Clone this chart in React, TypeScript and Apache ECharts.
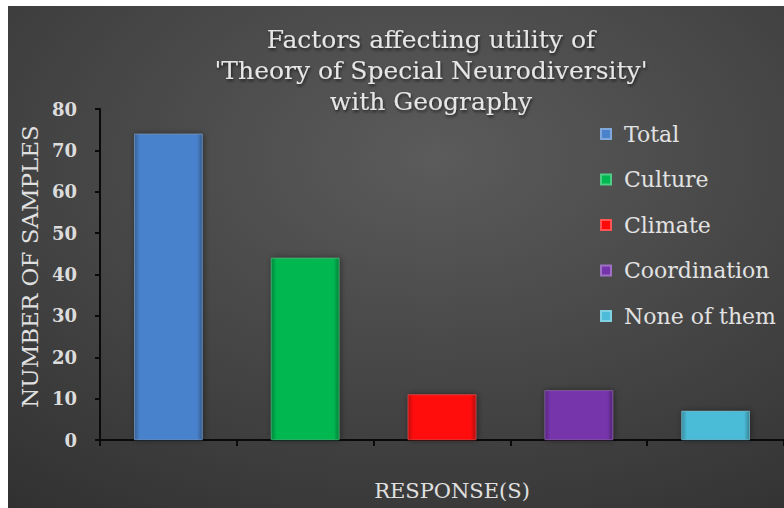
import React, { useEffect, useRef } from "react";
import * as echarts from "echarts";

const categories = ["Total", "Culture", "Climate", "Coordination", "None of them"];
const values = [74, 44, 11, 12, 7];
const barColors = ["#4a82cc", "#00b850", "#ff0a0a", "#7634aa", "#4cbcd8"];
const titleLines = [
  "Factors affecting utility of",
  "'Theory of Special Neurodiversity'",
  "with Geography",
];
const yAxisTitle = "NUMBER OF SAMPLES";
const xAxisTitle = "RESPONSE(S)";
const yMin = 0;
const yMax = 80;
const yStep = 10;

const FONT = "'DejaVu Serif', 'Liberation Serif', serif";

function shade(hex: string, f: number): string {
  const n = parseInt(hex.slice(1), 16);
  let r = (n >> 16) & 255, g = (n >> 8) & 255, b = n & 255;
  if (f < 0) {
    r = Math.round(r * (1 + f)); g = Math.round(g * (1 + f)); b = Math.round(b * (1 + f));
  } else {
    r = Math.round(r + (255 - r) * f); g = Math.round(g + (255 - g) * f); b = Math.round(b + (255 - b) * f);
  }
  return `rgb(${r},${g},${b})`;
}

export default function App() {
  const ref = useRef<HTMLDivElement>(null);
  useEffect(() => {
    if (!ref.current) return;
    const chart = echarts.init(ref.current, null, { renderer: "svg" });
    const series = categories.map((name, i) => ({
      name,
      type: "bar",
      barWidth: "50%",
      barGap: "-100%",
      data: categories.map((_, j) => (j === i ? values[i] : null)),
      itemStyle: {
        color: new echarts.graphic.LinearGradient(0, 0, 1, 0, [
          { offset: 0, color: shade(barColors[i], -0.25) },
          { offset: 0.08, color: barColors[i] },
          { offset: 0.92, color: barColors[i] },
          { offset: 1, color: shade(barColors[i], -0.3) },
        ]),
        borderColor: shade(barColors[i], 0.3),
        borderWidth: 0.6,
        shadowColor: "rgba(0,0,0,0.45)",
        shadowBlur: 6,
        shadowOffsetX: 1,
        shadowOffsetY: 0,
      },
    }));
    chart.setOption({
      animation: false,
      backgroundColor: {
        type: "radial",
        x: 0.55,
        y: 0.3,
        r: 0.95,
        colorStops: [
          { offset: 0, color: "#5b5b5b" },
          { offset: 1, color: "#2e2e2e" },
        ],
      },
      title: {
        text: titleLines.join("\n"),
        left: 423,
        top: 18,
        padding: 0,
        textAlign: "center",
        textStyle: {
          fontFamily: FONT,
          fontSize: 25,
          fontWeight: "normal",
          color: "#e6e6e6",
          lineHeight: 31,
          textShadowColor: "rgba(0,0,0,0.6)",
          textShadowBlur: 3,
          textShadowOffsetX: 1,
          textShadowOffsetY: 2,
        },
      },
      legend: {
        orient: "vertical",
        left: 592,
        top: 117,
        padding: 0,
        itemWidth: 10,
        itemHeight: 10,
        itemGap: 23.5,
        icon: "rect",
        data: categories,
        textStyle: {
          fontFamily: FONT,
          fontSize: 22,
          color: "#e2e2e2",
          lineHeight: 22,
          padding: [0, 0, 0, 8],
        },
      },
      grid: { left: 92, right: 0, top: 103, bottom: 68, containLabel: false },
      xAxis: {
        type: "category",
        data: categories,
        name: xAxisTitle,
        nameLocation: "middle",
        nameGap: 40,
        nameTextStyle: {
          fontFamily: FONT,
          fontSize: 21,
          color: "#e0e0e0",
          padding: [0, 0, 0, 20],
        },
        axisLine: { lineStyle: { color: "#0a0a0a", width: 2 } },
        axisTick: { show: true, length: 6, lineStyle: { color: "#0a0a0a", width: 2 } },
        axisLabel: { show: false },
      },
      yAxis: {
        type: "value",
        min: yMin,
        max: yMax,
        interval: yStep,
        name: yAxisTitle,
        nameLocation: "middle",
        nameGap: 53,
        nameTextStyle: {
          fontFamily: FONT,
          fontSize: 23,
          color: "#e0e0e0",
          padding: [0, 0, 0, 16],
        },
        axisLine: { show: true, lineStyle: { color: "#0a0a0a", width: 2 } },
        axisTick: { show: true, length: 5, lineStyle: { color: "#0a0a0a", width: 2 } },
        axisLabel: {
          fontFamily: FONT,
          fontSize: 18,
          fontWeight: "bold",
          color: "#dcdcdc",
          margin: 23,
        },
        splitLine: { show: false },
      },
      series,
    });
    return () => chart.dispose();
  }, []);
  return (
    <div style={{ position: "fixed", left: 0, top: 0, width: 784, height: 508, background: "#fff" }}>
      <div ref={ref} style={{ position: "absolute", left: 8, top: 6, width: 776, height: 502 }} />
    </div>
  );
}
